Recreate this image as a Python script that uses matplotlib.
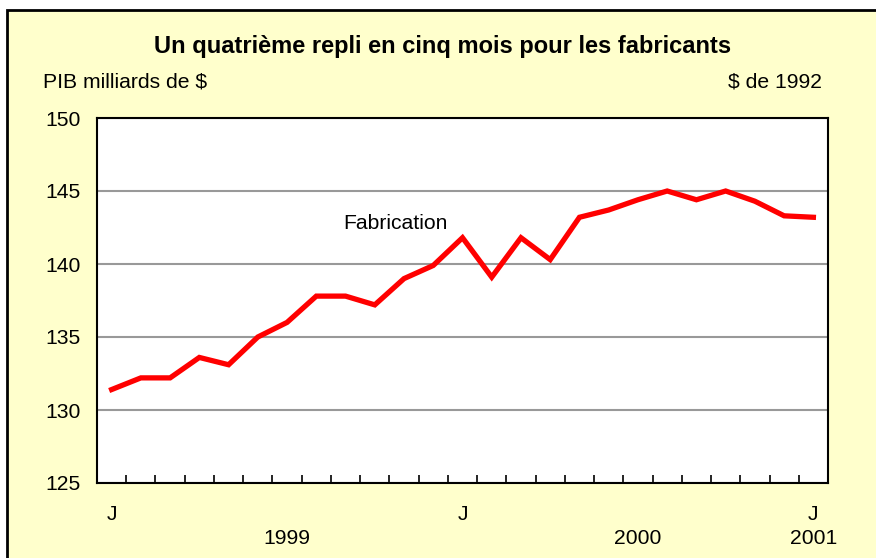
import matplotlib.pyplot as plt
from matplotlib.patches import Rectangle

plt.rcParams['font.family'] = ['Liberation Sans', 'DejaVu Sans']

# monthly values, Jan 1999 .. Jan 2001
months = list(range(25))
fabrication = [131.4, 132.2, 132.2, 133.6, 133.1, 135.0, 136.0, 137.8, 137.8, 137.2,
               139.0, 139.9, 141.8, 139.1, 141.8, 140.3, 143.2, 143.7, 144.4, 145.0,
               144.4, 145.0, 144.3, 143.3, 143.2]
month_labels = {0: "J", 12: "J", 24: "J"}
year_labels = {6: "1999", 18: "2000", 24: "2001"}
yticks = [125, 130, 135, 140, 145, 150]

W, H = 876, 558
FS = 15.2
fig = plt.figure(figsize=(W / 100, H / 100), dpi=100)
fig.patch.set_facecolor("white")
fig.patches.append(Rectangle((7 / W, -0.05), 1.0, 1 - 10 / H + 0.05, transform=fig.transFigure,
                             facecolor="#FFFFCC", edgecolor="black", linewidth=2, zorder=-10))

ax = fig.add_axes([97 / W, (H - 483) / H, 731 / W, 365 / H])
ax.set_facecolor("white")
ax.plot(months, fabrication, color="#FF0000", linewidth=3.8, solid_joinstyle="miter", zorder=3)

ax.set_xlim(-0.5, 24.5)
ax.set_ylim(125, 150)
ax.set_yticks(yticks)
ax.tick_params(axis="y", length=0, pad=12, labelsize=FS)
ax.grid(axis="y", color="#999999", linewidth=1.5)
ax.set_axisbelow(True)

ax.set_xticks([])
ax.set_xticks([m + 0.5 for m in months[:-1]], minor=True)
ax.tick_params(axis="x", which="minor", direction="in", length=6, width=1.2, color="black")
for s in ax.spines.values():
    s.set_color("black")
    s.set_linewidth(1.5)

for m, t in month_labels.items():
    ax.text(m, -32 / 365, t, transform=ax.get_xaxis_transform(), ha="center", va="center",
            fontsize=FS)
for m, t in year_labels.items():
    ax.text(m, -56 / 365, t, transform=ax.get_xaxis_transform(), ha="center", va="center",
            fontsize=FS)

ax.text(9.7, 142.8, "Fabrication", ha="center", va="center", fontsize=FS)

fig.text(443 / W, 1 - 46 / H, "Un quatrième repli en cinq mois pour les fabricants",
         ha="center", va="center", fontsize=17, fontweight="bold")
fig.text(43 / W, 1 - 82 / H, "PIB milliards de $", ha="left", va="center", fontsize=FS)
fig.text(822 / W, 1 - 82 / H, "$ de 1992", ha="right", va="center", fontsize=FS)

fig.savefig("out.png", dpi=100)
